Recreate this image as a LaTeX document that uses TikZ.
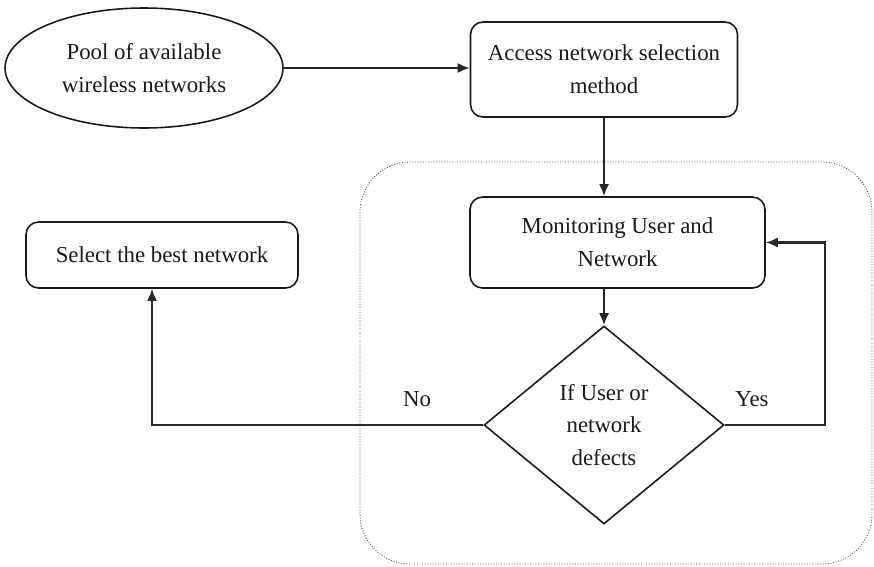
\documentclass[tikz,border=0pt]{standalone}
\usepackage{fontspec}
\setmainfont{Liberation Serif}
\usetikzlibrary{calc}
\usetikzlibrary{positioning}
\usetikzlibrary{arrows.meta}
\usetikzlibrary{shapes.geometric}

\begin{document}
\begin{tikzpicture}[x=0.02cm,y=-0.02cm,
    font=\fontsize{13}{18.7}\selectfont,
    every node/.style={text=black!90},
    procbox/.style={draw=black!90,rounded corners=2.5mm,line width=0.9pt,align=center},
    flow/.style={-{Latex[length=2.4mm,width=2mm]},line width=1.2pt,draw=black!85}]
    \useasboundingbox (0,0) rectangle (874,566);

    % dotted frame round the monitoring loop
    \draw[densely dotted,black!70,line width=0.5pt,rounded corners=1cm] (360,162) rectangle (872,564);

    % start
    \node[draw=black!90,ellipse,line width=0.9pt,minimum width=5.56cm,minimum height=2.4cm,align=center] (pool) at (144,68) {Pool of available\\wireless networks};

    % process boxes
    \node[procbox,minimum width=5.34cm,minimum height=1.9cm] (access) at (604,69.5) {Access network selection\\method};
    \node[procbox,minimum width=5.9cm,minimum height=1.82cm] (monitor) at (617.5,242.5) {Monitoring User and\\Network};
    \node[procbox,minimum width=5.44cm,minimum height=1.32cm] (select) at (162,255) {Select the best network};

    % decision
    \node[draw=black!90,diamond,line width=0.9pt,inner sep=0pt,minimum width=4.8cm,minimum height=3.96cm,align=center] (check) at (604,425) {If User or\\network\\defects};

    % branching coordinates
    \coordinate (yesturn) at (825,425);

    % labels
    \node (yes) at (752,399) {Yes};
    \node (no) at (417,399) {No};

    % Lines
    \draw[flow] (pool.east) -- (pool.east -| access.west);
    \draw[flow] (access.south) -- (access.south |- monitor.north);
    \draw[flow] (monitor.south -| check.north) -- (check.north);
    \draw[flow] (check.east) -- (yesturn) |- (monitor.east);
    \draw[flow] (check.west) -| ([xshift=-0.2cm]select.south);
\end{tikzpicture}
\end{document}
